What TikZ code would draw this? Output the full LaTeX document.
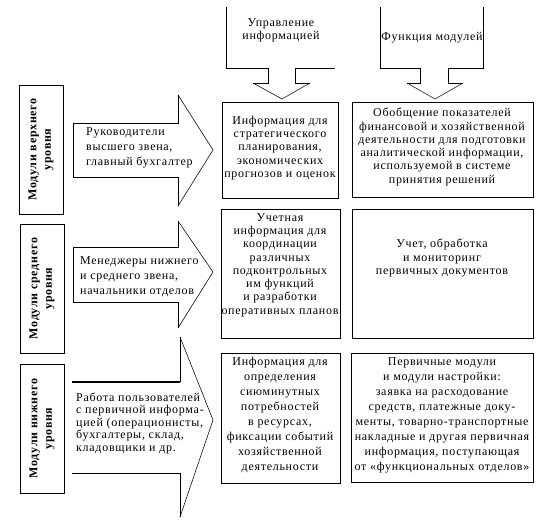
\documentclass[tikz,border=0pt]{standalone}
\usepackage{fontspec}
\setmainfont{Liberation Serif}[LetterSpace=6]
\begin{document}
\begin{tikzpicture}[x=1pt,y=-1pt,
  ln/.style={line width=0.8pt},
  headln/.style={line width=0.55pt},
  box/.style={draw,line width=0.8pt,inner sep=0pt},
  lvl/.style={box,rotate=90,minimum width=129pt,minimum height=44pt,
    font=\bfseries\fontsize{12}{14.5}\selectfont,align=center},
  txt/.style={font=\fontsize{12}{13.3}\selectfont,align=center,inner sep=0pt},
  txtw/.style={font=\fontsize{12}{15}\selectfont,align=center,inner sep=0pt},
  atxt/.style={font=\fontsize{12}{15}\selectfont,align=left,inner sep=0pt,anchor=west},
]
\useasboundingbox (0,0) rectangle (542,525);

% top callouts
\draw[ln] (226,7) -- (226,68) -- (268,68) -- (268,83) -- (253,83);
\draw[headln] (253,83) -- (282,99) -- (310,83);
\draw[ln] (310,83) -- (295,83) -- (295,68) -- (335,68);
\node[txt] (cu) at (281,30) {Управление\\информацией};

\draw[ln] (380,7) -- (380,68) -- (420,68) -- (420,83) -- (407,83);
\draw[headln] (407,83) -- (435,99) -- (463,83);
\draw[ln] (463,83) -- (448,83) -- (448,68) -- (483,68) -- (483,7);
\node[txt] (cf) at (432,38) {Функция модулей};

% level boxes
\node[lvl] (l1) at (41,149.5) {Модули верхнего\\уровня};
\node[lvl] (l2) at (42,288.5) {Модули среднего\\уровня};
\node[lvl] (l3) at (42,428.5) {Модули нижнего\\уровня};

% big arrows
\draw[ln] (178,95) -- (178,123) -- (73,123) -- (73,177) -- (178,177) -- (178,206);
\draw[headln] (178,95) -- (213,150) -- (178,206);
\node[atxt] (a1) at (86,148) {Руководители\\высшего звена,\\главный бухгалтер};

\draw[ln] (178,221) -- (178,247) -- (73,247) -- (73,302) -- (178,302) -- (178,328);
\draw[headln] (178,221) -- (213,272) -- (178,328);
\node[atxt] (a2) at (80,277) {Менеджеры нижнего\\и среднего звена,\\начальники отделов};

\draw[line width=1.6pt] (72,382) -- (180,382);
\draw[ln] (180,382) -- (180,337);
\draw[ln] (72,473) -- (180,473) -- (180,517);
\draw[headln] (180,337) -- (213,420) -- (180,517);
\node[atxt,font=\fontsize{12}{12.5}\selectfont] (a3) at (76,423) {Работа пользователей\\с первичной информа-\\цией (операционисты,\\бухгалтеры, склад,\\кладовщики и др.};

% information boxes
\node[box,minimum width=116pt,minimum height=96pt] (m1) at (280,150) {};
\node[box,minimum width=181pt,minimum height=95pt] (r1) at (442.5,149.5) {};
\node[box,minimum width=119pt,minimum height=129pt] (m2) at (280.5,273.5) {};
\node[box,minimum width=181pt,minimum height=129pt] (r2) at (442.5,273.5) {};
\node[box,minimum width=119pt,minimum height=130pt] (m3) at (280.5,418) {};
\node[box,minimum width=182pt,minimum height=129pt] (r3) at (442,417.5) {};

\node[txt] (m1t) at (280,148) {Информация для\\стратегического\\планирования,\\экономических\\прогнозов и оценок};
\node[txt] (r1t) at (442,147) {Обобщение показателей\\финансовой и хозяйственной\\деятельности для подготовки\\аналитической информации,\\используемой в системе\\принятия решений};
\node[txt] (m2t) at (280,265) {Учетная\\информация для\\координации\\различных\\подконтрольных\\им функций\\и разработки\\оперативных планов};
\node[txt] (r2t) at (442,258) {Учет, обработка\\и мониторинг\\первичных документов};
\node[txtw] (m3t) at (280,415) {Информация для\\определения\\сиюминутных\\потребностей\\в ресурсах,\\фиксации событий\\хозяйственной\\деятельности};
\node[txtw] (r3t) at (442,415) {Первичные модули\\и модули настройки:\\заявка на расходование\\средств, платежные доку-\\менты, товарно-транспортные\\накладные и другая первичная\\информация, поступающая\\от «функциональных отделов»};
\end{tikzpicture}
\end{document}
